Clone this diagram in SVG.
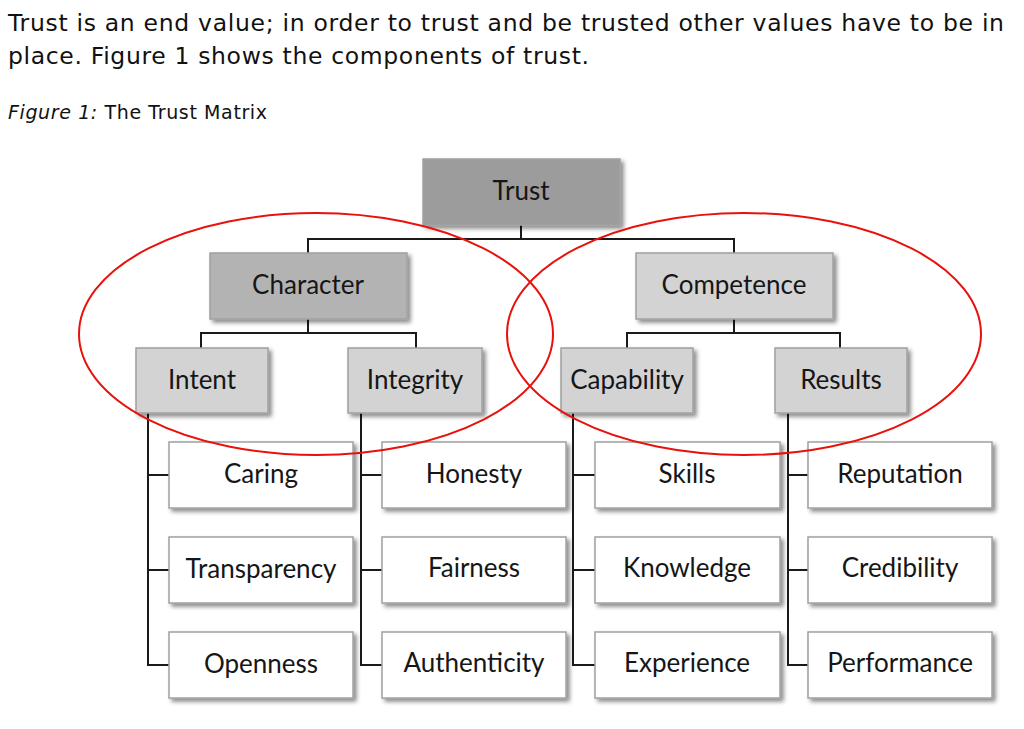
<svg xmlns="http://www.w3.org/2000/svg" width="1024" height="729" viewBox="0 0 1024 729">
<defs>
<filter id="sh" x="-10%" y="-10%" width="130%" height="140%">
<feDropShadow dx="3" dy="3" stdDeviation="2" flood-color="#000" flood-opacity="0.45"/>
</filter>
<style>
.para{font-family:"DejaVu Sans",Verdana,sans-serif;font-size:23.5px;fill:#111}
.cap{font-family:"DejaVu Sans",Verdana,sans-serif;font-size:19px;fill:#111}
.box{stroke:#a0a0a0;stroke-width:1.5;filter:url(#sh)}
.l0{fill:#9c9c9c}
.l1a{fill:#b3b3b3}
.l1b{fill:#d3d3d3}
.l2{fill:#d3d3d3}
.l3{fill:#ffffff}
.lbl{font-family:Lato,"Liberation Sans",sans-serif;font-size:26px;fill:#161616;text-anchor:middle}
.con{fill:none;stroke:#1a1a1a;stroke-width:2}
.ell{fill:none;stroke:#e8120c;stroke-width:2}
</style>
</defs>
<rect width="1024" height="729" fill="#fff"/>
<text class="para" x="8" y="31" textLength="996" lengthAdjust="spacing">Trust is an end value; in order to trust and be trusted other values have to be in</text>
<text class="para" x="8" y="64" textLength="581" lengthAdjust="spacing">place. Figure 1 shows the components of trust.</text>
<text class="cap" x="8" y="119" textLength="259" lengthAdjust="spacing"><tspan font-style="italic">Figure 1:</tspan> The Trust Matrix</text>

<g id="connectors">
<path class="con" d="M521 225V239M308 253V239H734V253"/>
<path class="con" d="M308 319V333M201 348V333H416V348"/>
<path class="con" d="M734 319V333M627 348V333H840V348"/>
<path class="con" d="M148 413V665H169M148 475H169M148 570H169"/>
<path class="con" d="M361 413V665H382M361 475H382M361 570H382"/>
<path class="con" d="M573 413V665H595M573 475H595M573 570H595"/>
<path class="con" d="M788 413V665H808M788 475H808M788 570H808"/>
</g>

<g id="trust"><rect class="box l0" x="423" y="159" width="197" height="66"/><text class="lbl" x="521" y="200">Trust</text></g>
<g id="character"><rect class="box l1a" x="210" y="253" width="197" height="66"/><text class="lbl" x="308" y="294">Character</text></g>
<g id="competence"><rect class="box l1b" x="636" y="253" width="197" height="66"/><text class="lbl" x="734" y="294">Competence</text></g>

<g id="intent"><rect class="box l2" x="136" y="348" width="132" height="65"/><text class="lbl" x="202" y="389">Intent</text></g>
<g id="integrity"><rect class="box l2" x="348" y="348" width="134" height="65"/><text class="lbl" x="415" y="389">Integrity</text></g>
<g id="capability"><rect class="box l2" x="561" y="348" width="132" height="65"/><text class="lbl" x="627" y="389">Capability</text></g>
<g id="results"><rect class="box l2" x="775" y="348" width="132" height="65"/><text class="lbl" x="841" y="389">Results</text></g>

<g id="caring"><rect class="box l3" x="169" y="442" width="184" height="66"/><text class="lbl" x="261" y="483">Caring</text></g>
<g id="transparency"><rect class="box l3" x="169" y="537" width="184" height="66"/><text class="lbl" x="261" y="578">Transparency</text></g>
<g id="openness"><rect class="box l3" x="169" y="632" width="184" height="66"/><text class="lbl" x="261" y="673">Openness</text></g>

<g id="honesty"><rect class="box l3" x="382" y="442" width="184" height="66"/><text class="lbl" x="474" y="483">Honesty</text></g>
<g id="fairness"><rect class="box l3" x="382" y="537" width="184" height="66"/><text class="lbl" x="474" y="577">Fairness</text></g>
<g id="authenticity"><rect class="box l3" x="382" y="632" width="184" height="66"/><text class="lbl" x="474" y="672">Authenticity</text></g>

<g id="skills"><rect class="box l3" x="595" y="442" width="185" height="66"/><text class="lbl" x="687" y="483">Skills</text></g>
<g id="knowledge"><rect class="box l3" x="595" y="537" width="185" height="66"/><text class="lbl" x="687" y="577">Knowledge</text></g>
<g id="experience"><rect class="box l3" x="595" y="632" width="185" height="66"/><text class="lbl" x="687" y="672">Experience</text></g>

<g id="reputation"><rect class="box l3" x="808" y="442" width="184" height="66"/><text class="lbl" x="900" y="483">Reputation</text></g>
<g id="credibility"><rect class="box l3" x="808" y="537" width="184" height="66"/><text class="lbl" x="900" y="577">Credibility</text></g>
<g id="performance"><rect class="box l3" x="808" y="632" width="184" height="66"/><text class="lbl" x="900" y="672">Performance</text></g>

<g id="ellipses">
<ellipse class="ell" cx="316" cy="334" rx="237" ry="121"/>
<ellipse class="ell" cx="744" cy="334" rx="237" ry="121"/>
</g>
</svg>
